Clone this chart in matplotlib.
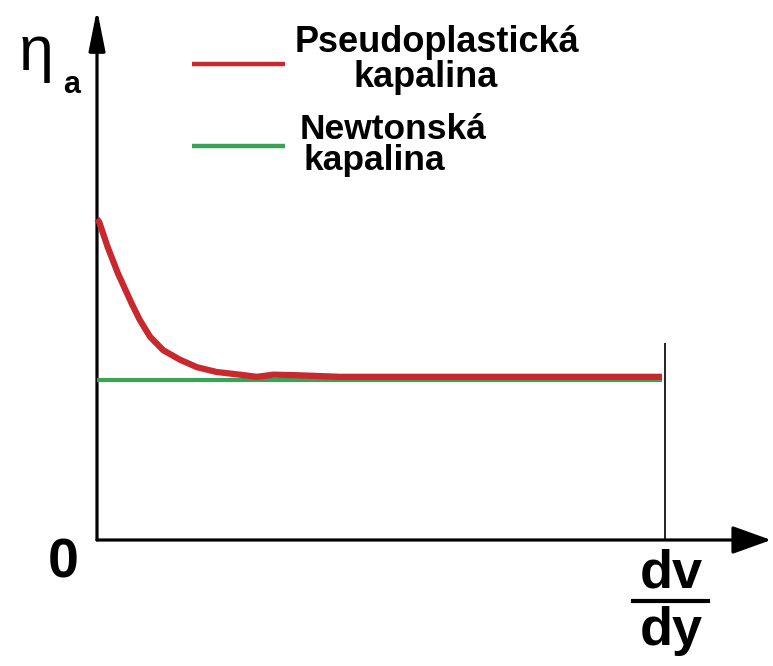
import matplotlib
matplotlib.use("Agg")
import matplotlib.pyplot as plt

# pseudoplastic fluid: apparent viscosity vs. shear rate
shear_rate = [0.0, 0.04, 0.19, 0.37, 0.62, 0.76, 0.94, 1.17, 1.47, 1.77, 2.12,
              2.53, 2.83, 3.12, 3.54, 4.30, 5.5, 7.0, 8.5, 10.0]
eta_pseudo = [6.02, 5.96, 5.49, 5.00, 4.42, 4.12, 3.81, 3.56, 3.38, 3.24, 3.15,
              3.10, 3.06, 3.10, 3.09, 3.06, 3.06, 3.06, 3.06, 3.06]
# newtonian fluid: constant viscosity
newton_x = [0.0, 10.0]
eta_newton = [3.0, 3.0]

legend_labels = [["Pseudoplastická", "kapalina"], ["Newtonská", "kapalina"]]

RED = "#c9282e"
GREEN = "#3aa357"
W, H = 773, 666

fig = plt.figure(figsize=(W / 100, H / 100), dpi=100)
ax = fig.add_axes([0, 0, 1, 1])
# origin of the diagram sits at pixel (97, 540)
sx, sy = 56.5, 53.33
ax.set_xlim(-97 / sx, (W - 97) / sx)
ax.set_ylim(-(H - 540) / sy, 540 / sy)
ax.axis("off")


def fx(px):
    return px / W


def fy(py):
    return 1 - py / H


# axes with arrows
ax.annotate("", xy=(11.93, 0), xytext=(0, 0), annotation_clip=False,
            arrowprops=dict(arrowstyle="-|>,head_length=1.0,head_width=0.36",
                            mutation_scale=24, lw=2.3, color="black",
                            shrinkA=0, shrinkB=0))
ax.annotate("", xy=(0, 9.95), xytext=(0, 0), annotation_clip=False,
            arrowprops=dict(arrowstyle="-|>,head_length=1.0,head_width=0.2",
                            mutation_scale=25, lw=2.3, color="black",
                            shrinkA=0, shrinkB=0))
ax.vlines(10.05, 0, 3.69, color="#222222", lw=1.4)

ax.plot(newton_x, eta_newton, color=GREEN, lw=3.0, solid_capstyle="butt", zorder=3)
ax.plot(shear_rate, eta_pseudo, color=RED, lw=4.5, solid_capstyle="butt",
        solid_joinstyle="round", zorder=4)

# legend samples
ax.plot([1.68, 3.33], [8.93, 8.93], color=RED, lw=3.2, solid_capstyle="butt")
ax.plot([1.68, 3.33], [7.39, 7.39], color=GREEN, lw=3.2, solid_capstyle="butt")

bold = dict(family="Liberation Sans", weight="bold", color="black")
fig.text(fx(437), fy(52), legend_labels[0][0], ha="center", va="baseline", fontsize=26, **bold)
fig.text(fx(426), fy(87), legend_labels[0][1], ha="center", va="baseline", fontsize=26, **bold)
fig.text(fx(300), fy(139), legend_labels[1][0], ha="left", va="baseline", fontsize=25.5, **bold)
fig.text(fx(303), fy(170), legend_labels[1][1], ha="left", va="baseline", fontsize=25.5, **bold)

# axis labels
fig.text(fx(19), fy(70), "η", ha="left", va="baseline", fontsize=45,
         family="Liberation Sans", color="black")
fig.text(fx(63), fy(93), "a", ha="left", va="baseline", fontsize=22, **bold)
fig.text(fx(63), fy(578), "0", ha="center", va="baseline", fontsize=40, **bold)
fig.text(fx(671), fy(587), "dv", ha="center", va="baseline", fontsize=39, **bold)
fig.text(fx(671), fy(645), "dy", ha="center", va="baseline", fontsize=39, **bold)
fig.add_artist(plt.Line2D([fx(633), fx(708)], [fy(601), fy(601)],
                          transform=fig.transFigure, color="black", lw=3.0))

fig.savefig("out.png", dpi=100, facecolor="white")
